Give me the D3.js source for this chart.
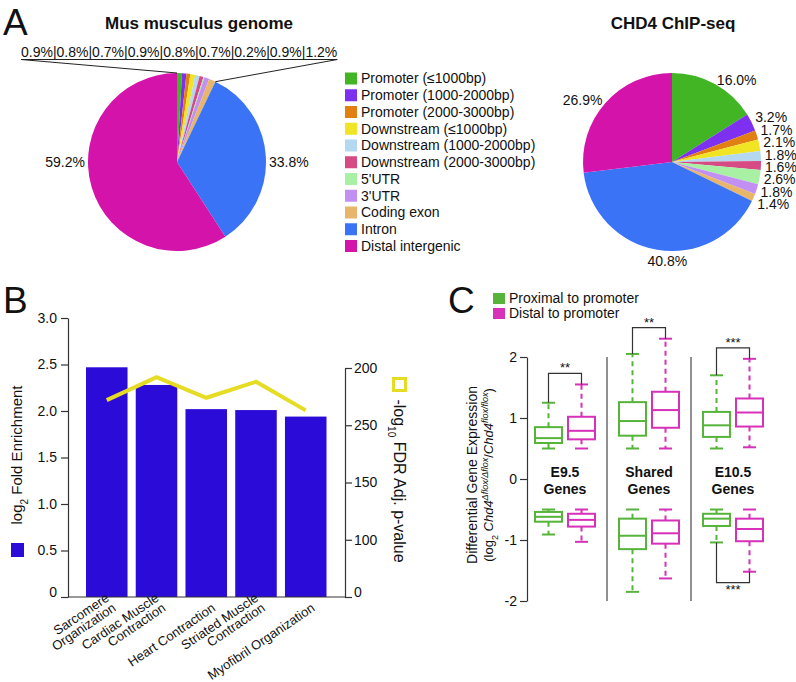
<!DOCTYPE html>
<html><head><meta charset="utf-8">
<script src="https://cdn.jsdelivr.net/npm/d3@7"></script>
<style>
body{margin:0;background:#fff}
svg{display:block}
text{font-family:"Liberation Sans",Arial,Helvetica,sans-serif;fill:#111}
</style>
</head><body>
<svg id="fig" width="796" height="682"></svg>
<script>
// ---------------- DATA ----------------
// Panel A
const regionNames = ["Promoter (\u22641000bp)","Promoter (1000-2000bp)","Promoter (2000-3000bp)","Downstream (\u22641000bp)","Downstream (1000-2000bp)","Downstream (2000-3000bp)","5'UTR","3'UTR","Coding exon","Intron","Distal intergenic"];
const regionColors = ["#42b524","#7e30f0","#e27f12","#f1e424","#b5d8f1","#d64b83","#a8f0a4","#c28ff2","#e7b66a","#3b73f7","#d413aa"];
const genomePct = [0.9,0.8,0.7,0.9,0.8,0.7,0.2,0.9,1.2,33.8,59.2];
const chipPct = [16.0,3.2,1.7,2.1,1.8,1.6,2.6,1.8,1.4,40.8,26.9];
const pieTitles = ["Mus musculus genome","CHD4 ChIP-seq"];

// Panel B
const goTerms = [["Sarcomere","Organization"],["Cardiac Muscle","Contraction"],["Heart Contraction"],["Striated Muscle","Contraction"],["Myofibril Organization"]];
const foldEnrichment = [2.47,2.28,2.02,2.01,1.94];
const fdrValues = [172,192,174,188,163];
const leftTicks = [0,0.5,1,1.5,2,2.5,3];
const rightTickPos = [0,50,100,150,200];
const rightTickLabels = ["0","100","150","250","200"];

// Panel C  (box stats: [low whisker, q1, median, q3, high whisker])
const geneSets = [["E9.5","Genes"],["Shared","Genes"],["E10.5","Genes"]];
const proximity = ["Proximal to promoter","Distal to promoter"];
const proxColors = ["#56b43a","#d631b8"];
const upProximal   = [[0.50,0.59,0.67,0.85,1.25],[0.50,0.71,0.95,1.26,2.05],[0.50,0.69,0.88,1.10,1.70]];
const upDistal     = [[0.50,0.65,0.79,1.02,1.55],[0.50,0.84,1.13,1.43,2.30],[0.52,0.86,1.09,1.32,1.97]];
const downProximal = [[-0.91,-0.70,-0.62,-0.54,-0.50],[-1.85,-1.15,-0.93,-0.65,-0.50],[-1.04,-0.77,-0.65,-0.57,-0.50]];
const downDistal   = [[-1.03,-0.78,-0.67,-0.57,-0.50],[-1.63,-1.06,-0.89,-0.68,-0.50],[-1.52,-1.02,-0.82,-0.65,-0.50]];
const cTicks = [-2,-1,0,1,2];
const significance = [{set:0,dir:"up",label:"**"},{set:1,dir:"up",label:"**"},{set:2,dir:"up",label:"***"},{set:2,dir:"down",label:"***"}];

// ---------------- DRAW ----------------
const svg = d3.select("#fig");
const AX = "#333";

// panel letters
[["A",3,35],["B",3,313],["C",448,313]].forEach(([t,x,y])=>
  svg.append("text").attr("x",x).attr("y",y).attr("font-size",37).text(t));

// ---- Panel A ----
const R = 89;
const pie = d3.pie().sort(null).value(d=>d);
const arc = d3.arc().innerRadius(0).outerRadius(R);
function pt(a, r){ return [Math.sin(a)*r, -Math.cos(a)*r]; }

function drawPie(data, cx, cy, title, mode){
  const g = svg.append("g").attr("transform",`translate(${cx},${cy})`);
  const arcs = pie(data);
  g.selectAll("path").data(arcs).join("path")
    .attr("d",arc).attr("fill",(d,i)=>regionColors[i]);
  svg.append("text").attr("x",cx+(mode==="genome"?22:1)).attr("y",29)
    .attr("text-anchor","middle").attr("font-size",17).attr("font-weight","bold").text(title);
  const fmt = d3.format(".1f");
  if(mode==="genome"){
    const small = arcs.filter(a=>a.data<2);
    const big = arcs.filter(a=>a.data>=2);
    const t = svg.append("text").attr("x",21).attr("y",57).attr("font-size",14)
      .text(small.map(a=>fmt(a.data)+"%").join("|"));
    const w = t.node().getComputedTextLength();
    const uy = 59.5;
    svg.append("line").attr("x1",21).attr("x2",21+w).attr("y1",uy).attr("y2",uy).attr("stroke","#222").attr("stroke-width",1);
    const p0 = pt(small[0].startAngle,R), p1 = pt(small[small.length-1].endAngle,R);
    svg.append("line").attr("x1",21).attr("y1",uy).attr("x2",cx+p0[0]).attr("y2",cy+p0[1]).attr("stroke","#222");
    svg.append("line").attr("x1",21+w).attr("y1",uy).attr("x2",cx+p1[0]).attr("y2",cy+p1[1]).attr("stroke","#222");
    big.forEach(a=>{
      const m=(a.startAngle+a.endAngle)/2, s=Math.sin(m)>0?1:-1;
      g.append("text").attr("x",s*(R+3)).attr("y",0).attr("dy","0.35em")
        .attr("text-anchor",s>0?"start":"end").attr("font-size",14).text(fmt(a.data)+"%");
    });
  } else {
    const small = arcs.filter(a=>a.data<5);
    const nat = small.map(a=>-Math.cos((a.startAngle+a.endAngle)/2)*(R+4));
    const mean = d3.mean(nat), gap = 12.4;
    small.forEach((a,i)=>{
      const m=(a.startAngle+a.endAngle)/2;
      g.append("text").attr("x",Math.sin(m)*(R+4)).attr("y",mean+(i-(small.length-1)/2)*gap)
        .attr("dy","0.35em").attr("font-size",14).text(fmt(a.data)+"%");
    });
    arcs.filter(a=>a.data>=5).forEach(a=>{
      const m=(a.startAngle+a.endAngle)/2, s=Math.sin(m), c=-Math.cos(m);
      const anchor = s>0.3?"start":(s<-0.3?"end":"middle");
      const rr = R+4;
      g.append("text").attr("x",anchor==="middle"?s*rr*0.3:s*rr).attr("y",c*rr)
        .attr("dy",anchor==="middle"?(c>0?"0.85em":"-0.2em"):"0.35em")
        .attr("text-anchor",anchor).attr("font-size",14).text(fmt(a.data)+"%");
    });
  }
}
drawPie(genomePct,177,162,pieTitles[0],"genome");
drawPie(chipPct,672,162,pieTitles[1],"chip");

// legend A
const legA = svg.append("g");
regionNames.forEach((n,i)=>{
  const cy = 78.5 + i*16.75;
  legA.append("rect").attr("x",345).attr("y",cy-6).attr("width",12).attr("height",12).attr("fill",regionColors[i]);
  legA.append("text").attr("x",361).attr("y",cy).attr("dy","0.35em").attr("font-size",14).text(n);
});

// ---- Panel B ----
const yL = d3.scaleLinear().domain([0,3]).range([597,318]);
const yR = d3.scaleLinear().domain([0,200]).range([597,368]);
const xB = d3.scaleBand().domain(d3.range(goTerms.length)).range([81.9,330.6]).paddingInner(0.165).paddingOuter(0.0825);
const gB = svg.append("g");
const leftX = 68, rightX = 345;

gB.selectAll("rect.bar").data(foldEnrichment).join("rect").attr("class","bar")
  .attr("x",(d,i)=>xB(i)).attr("width",xB.bandwidth())
  .attr("y",d=>yL(d)).attr("height",d=>yL(0)-yL(d)).attr("fill","#2b0bd7");

const axL = gB.append("g").attr("transform",`translate(${leftX},0)`)
  .call(d3.axisLeft(yL).tickValues(leftTicks).tickSize(7).tickSizeOuter(0).tickPadding(4)
    .tickFormat(d=>d===0?"0":d3.format(".1f")(d)));
const axR = gB.append("g").attr("transform",`translate(${rightX},0)`)
  .call(d3.axisRight(yR).tickValues(rightTickPos).tickSize(7).tickSizeOuter(0).tickPadding(2)
    .tickFormat((d,i)=>rightTickLabels[i]));
[axL,axR].forEach(a=>{
  a.selectAll("path,line").attr("stroke",AX).attr("stroke-width",1.2);
  a.selectAll("text").attr("font-size",14).attr("fill","#111").attr("font-family",null);
  a.selectAll(".tick").filter(d=>d===0).select("text").attr("dy","-0.05em");
});
gB.append("line").attr("x1",leftX).attr("x2",rightX).attr("y1",yL(0)).attr("y2",yL(0)).attr("stroke",AX).attr("stroke-width",1.2);

const line = d3.line().x((d,i)=>xB(i)+xB.bandwidth()/2).y(d=>yR(d));
gB.append("path").datum(fdrValues).attr("d",line).attr("fill","none").attr("stroke","#e6dc23").attr("stroke-width",4);

goTerms.forEach((lines,i)=>{
  const cx = xB(i)+xB.bandwidth()/2;
  const t = gB.append("text").attr("transform",`translate(${cx+10},${yL(0)+13}) rotate(-34)`)
    .attr("text-anchor","end").attr("font-size",13);
  lines.forEach((s,j)=>t.append("tspan").attr("x",0).attr("y",-(lines.length-1-j)*12).text(s));
});

// B axis titles & legend marks
gB.append("rect").attr("x",11).attr("y",543).attr("width",13).attr("height",14).attr("fill","#2b0bd7");
const tl = gB.append("text").attr("transform","translate(22,455) rotate(-90)").attr("text-anchor","middle").attr("font-size",15);
tl.append("tspan").text("log");
tl.append("tspan").attr("baseline-shift","sub").attr("font-size",10).text("2");
tl.append("tspan").text(" Fold Enrichment");
gB.append("rect").attr("x",393.5).attr("y",378.5).attr("width",12).attr("height",12).attr("fill","none").attr("stroke","#e6dc23").attr("stroke-width",3);
const tr = gB.append("text").attr("transform","translate(394,481) rotate(90)").attr("text-anchor","middle").attr("font-size",16);
tr.append("tspan").text("-log");
tr.append("tspan").attr("baseline-shift","sub").attr("font-size",10).text("10");
tr.append("tspan").text(" FDR Adj. p-value");

// ---- Panel C ----
const yC = d3.scaleLinear().domain([-2,2]).range([601,357]);
const xC = d3.scaleBand().domain(d3.range(geneSets.length)).range([523,775]);
const x1 = d3.scaleBand().domain([0,1]).range([-30,30]).paddingInner(0.182);
const gC = svg.append("g");

const axC = gC.append("g").attr("transform","translate(527,0)")
  .call(d3.axisLeft(yC).tickValues(cTicks).tickSize(7).tickSizeOuter(0).tickPadding(3).tickFormat(d=>String(d)));
axC.selectAll("path,line").attr("stroke",AX).attr("stroke-width",1.2);
axC.selectAll("text").attr("font-size",14).attr("fill","#111").attr("font-family",null);

d3.range(1,geneSets.length).forEach(i=>{
  gC.append("line").attr("x1",xC(i)).attr("x2",xC(i)).attr("y1",yC(2)).attr("y2",yC(-2)).attr("stroke","#222").attr("stroke-width",1);
});

geneSets.forEach((lines,i)=>{
  const t = gC.append("text").attr("x",xC(i)+xC.bandwidth()/2).attr("text-anchor","middle").attr("font-size",14).attr("font-weight","bold");
  lines.forEach((s,j)=>t.append("tspan").attr("x",xC(i)+xC.bandwidth()/2).attr("y",477+j*17).text(s));
});

function boxCenter(set, k){ return xC(set)+xC.bandwidth()/2 + x1(k) + x1.bandwidth()/2; }
function drawBox(st, set, k){
  const cx = boxCenter(set,k), col = proxColors[k], bw = x1.bandwidth(), cap = 6.5;
  const [lo,q1,md,q3,hi] = st;
  const g = gC.append("g").attr("stroke",col).attr("stroke-width",2).attr("fill","none");
  g.append("line").attr("x1",cx).attr("x2",cx).attr("y1",yC(q3)).attr("y2",yC(hi)).attr("stroke-dasharray","5,4");
  g.append("line").attr("x1",cx).attr("x2",cx).attr("y1",yC(q1)).attr("y2",yC(lo)).attr("stroke-dasharray","5,4");
  [hi,lo].forEach(v=>g.append("line").attr("x1",cx-cap).attr("x2",cx+cap).attr("y1",yC(v)).attr("y2",yC(v)));
  g.append("rect").attr("x",cx-bw/2).attr("width",bw).attr("y",yC(q3)).attr("height",yC(q1)-yC(q3)).attr("fill","#fff");
  g.append("line").attr("x1",cx-bw/2).attr("x2",cx+bw/2).attr("y1",yC(md)).attr("y2",yC(md));
}
[[upProximal,0],[upDistal,1],[downProximal,0],[downDistal,1]].forEach(([arr,k])=>arr.forEach((st,set)=>drawBox(st,set,k)));

significance.forEach(s=>{
  const A = s.dir==="up"?upProximal[s.set]:downProximal[s.set];
  const B = s.dir==="up"?upDistal[s.set]:downDistal[s.set];
  const xa = boxCenter(s.set,0), xb = boxCenter(s.set,1);
  const ya = yC(s.dir==="up"?A[4]:A[0]), yb = yC(s.dir==="up"?B[4]:B[0]);
  const yk = s.dir==="up"? Math.min(ya,yb)-11 : Math.max(ya,yb)+11;
  gC.append("path").attr("d",`M${xa},${ya}V${yk}H${xb}V${yb}`).attr("fill","none").attr("stroke",AX).attr("stroke-width",1.2);
  gC.append("text").attr("x",(xa+xb)/2).attr("y",s.dir==="up"?yk-1:yk+11).attr("text-anchor","middle").attr("font-size",13).text(s.label);
});

// C legend
proximity.forEach((n,i)=>{
  const cy = 298.5 + i*15;
  gC.append("rect").attr("x",493).attr("y",cy-5.5).attr("width",12).attr("height",11).attr("fill",proxColors[i]);
  gC.append("text").attr("x",509).attr("y",cy).attr("dy","0.35em").attr("font-size",14).text(n);
});

// C y-axis title
gC.append("text").attr("transform","translate(477,475) rotate(-90)").attr("text-anchor","middle").attr("font-size",14).text("Differential Gene Expression");
const t2 = gC.append("text").attr("transform","translate(493,475) rotate(-90)").attr("text-anchor","middle").attr("font-size",13);
t2.append("tspan").text("(log");
t2.append("tspan").attr("baseline-shift","sub").attr("font-size",9).text("2");
t2.append("tspan").text(" ");
t2.append("tspan").attr("font-style","italic").text("Chd4");
t2.append("tspan").attr("baseline-shift","super").attr("font-size",9).attr("font-style","italic").text("\u0394flox/\u0394flox");
t2.append("tspan").text("/");
t2.append("tspan").attr("font-style","italic").text("Chd4");
t2.append("tspan").attr("baseline-shift","super").attr("font-size",9).attr("font-style","italic").text("flox/flox");
t2.append("tspan").text(")");
</script>
</body></html>
